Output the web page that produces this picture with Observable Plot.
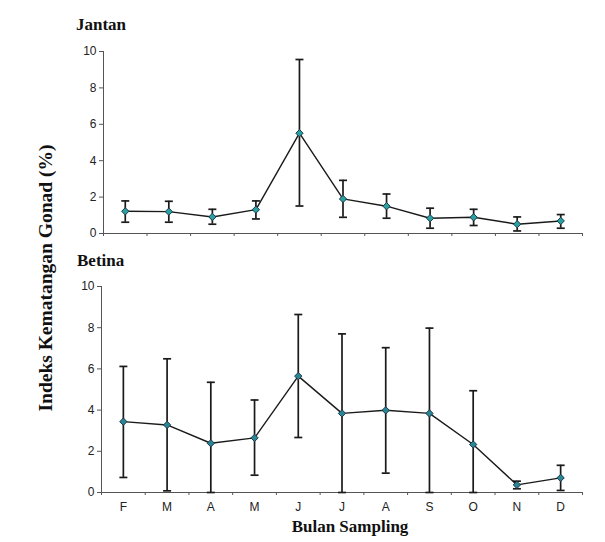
<!DOCTYPE html>
<html>
<head>
<meta charset="utf-8">
<script src="https://cdn.jsdelivr.net/npm/d3@7"></script>
<script src="https://cdn.jsdelivr.net/npm/@observablehq/plot@0.6"></script>
<style>
  body { margin: 0; background: #fff; }
  #wrap { position: relative; width: 605px; height: 542px; overflow: hidden; background: #fff; }
  .ttl { position: absolute; font-family: "Liberation Serif", "Times New Roman", serif; font-weight: bold; font-size: 17px; line-height: 1; color: #111; white-space: nowrap; }
  .panel { position: absolute; left: 0; }
</style>
</head>
<body>
<div id="wrap">
  <div class="ttl" style="left:76px; top:16px;">Jantan</div>
  <div class="ttl" style="left:77px; top:252px;">Betina</div>
  <div class="ttl" style="left:46px; top:278px; font-size:19.5px; transform: translate(-50%,-50%) rotate(-90deg);">Indeks Kematangan Gonad (%)</div>
  <div class="ttl" style="left:350px; top:518px; transform: translateX(-50%);">Bulan Sampling</div>
  <div id="top" class="panel" style="top:0px;"></div>
  <div id="bot" class="panel" style="top:245px;"></div>
</div>
<script>
const months = ["Feb","Mar","Apr","Mei","Jun","Jul","Agu","Sep","Okt","Nov","Des"];
const monthLabels = ["F","M","A","M","J","J","A","S","O","N","D"];
const yTicks = [0, 2, 4, 6, 8, 10];

const jantanMean  = [1.22, 1.20, 0.91, 1.31, 5.51, 1.90, 1.50, 0.84, 0.89, 0.51, 0.69];
const jantanUpper = [1.79, 1.77, 1.33, 1.79, 9.56, 2.92, 2.17, 1.39, 1.33, 0.91, 1.04];
const jantanLower = [0.62, 0.62, 0.51, 0.80, 1.51, 0.89, 0.84, 0.29, 0.44, 0.14, 0.29];

const betinaMean  = [3.44, 3.28, 2.39, 2.65, 5.65, 3.84, 3.99, 3.84, 2.33, 0.37, 0.71];
const betinaUpper = [6.12, 6.49, 5.35, 4.49, 8.64, 7.70, 7.03, 7.98, 4.94, 0.55, 1.32];
const betinaLower = [0.73, 0.08, 0.00, 0.84, 2.67, 0.00, 0.94, 0.00, 0.00, 0.18, 0.10];

const idx = months.map((m, i) => i + 1);
const edges = d3.range(0.5, months.length + 1, 1);

function table(mean, up, lo) {
  return months.map((m, i) => ({ month: m, x: i + 1, mean: mean[i], hi: up[i], lo: lo[i] }));
}

const cap = {
  draw(ctx, size) {
    const r = Math.sqrt(size / Math.PI);
    ctx.moveTo(-r, 0);
    ctx.lineTo(r, 0);
  }
};

function panel(data, opts) {
  const ink = "#1a1a1a";
  const marks = [
    Plot.ruleY([0], { stroke: "#555", strokeWidth: 1 }),
    Plot.ruleX([0.5], { stroke: "#555", strokeWidth: 1 }),
    Plot.axisY({ ticks: yTicks, tickSize: 4, tickPadding: 3, stroke: "#555" }),
    Plot.axisX({ ticks: edges, tickSize: 3, tickFormat: () => "", stroke: "#555" }),
    Plot.line(data, { x: "x", y: "mean", stroke: ink, strokeWidth: 1.4 }),
    Plot.ruleX(data, { x: "x", y1: "lo", y2: "hi", stroke: ink, strokeWidth: 1.7 }),
    Plot.dot(data, { x: "x", y: "hi", symbol: cap, r: 4, fill: "none", stroke: ink, strokeWidth: 1.7 }),
    Plot.dot(data, { x: "x", y: "lo", symbol: cap, r: 4, fill: "none", stroke: ink, strokeWidth: 1.7 }),
    Plot.dot(data, { x: "x", y: "mean", symbol: "diamond2", r: 3.3, fill: opts.fill, stroke: "#1d3a48", strokeWidth: 1 })
  ];
  if (opts.labels) {
    marks.push(Plot.axisX({ ticks: idx, tickSize: 0, tickPadding: 10, tickFormat: d => monthLabels[d - 1] }));
  }
  return Plot.plot({
    width: 605,
    height: opts.height,
    marginLeft: opts.left,
    marginRight: 23,
    marginTop: opts.top,
    marginBottom: opts.bottom,
    x: { domain: [0.5, months.length + 0.5], label: null },
    y: { domain: [0, 10], label: null },
    style: { fontFamily: "'Liberation Sans', Arial, sans-serif", fontSize: "12px", color: "#222", background: "transparent", overflow: "visible" },
    marks
  });
}

document.getElementById("top").appendChild(
  panel(table(jantanMean, jantanUpper, jantanLower), { height: 245, top: 51, bottom: 12, left: 103, fill: "#2aa0a2", labels: false })
);
document.getElementById("bot").appendChild(
  panel(table(betinaMean, betinaUpper, betinaLower), { height: 272, top: 41, bottom: 25, left: 101, fill: "#2a8596", labels: true })
);
</script>
</body>
</html>
